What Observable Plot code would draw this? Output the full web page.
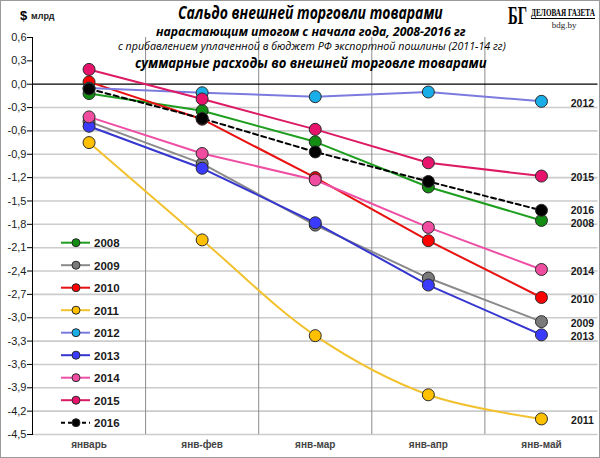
<!DOCTYPE html>
<html>
<head>
<meta charset="utf-8">
<script src="https://cdn.jsdelivr.net/npm/d3@7"></script>
<script src="https://cdn.jsdelivr.net/npm/@observablehq/plot@0.6"></script>
<style>
  body { margin: 0; background: #fff; }
  #wrap { position: relative; width: 600px; height: 458px; }
  #overlay { position: absolute; left: 0; top: 0; pointer-events: none; }
</style>
</head>
<body>
<div id="wrap"></div>
<script>
const months = ["январь", "янв-фев", "янв-мар", "янв-апр", "янв-май"];
const years = ["2008", "2009", "2010", "2011", "2012", "2013", "2014", "2015", "2016"];

const v2008 = [-0.12, -0.34, -0.74, -1.32, -1.75];
const v2009 = [-0.48, -1.02, -1.81, -2.49, -3.05];
const v2010 = [0.03, -0.45, -1.20, -2.01, -2.74];
const v2011 = [-0.75, -2.00, -3.23, -3.99, -4.30];
const v2012 = [-0.05, -0.11, -0.16, -0.10, -0.22];
const v2013 = [-0.54, -1.08, -1.78, -2.58, -3.22];
const v2014 = [-0.42, -0.89, -1.23, -1.84, -2.38];
const v2015 = [0.19, -0.19, -0.58, -1.01, -1.18];
const v2016 = [-0.06, -0.44, -0.87, -1.25, -1.62];
const seriesValues = [v2008, v2009, v2010, v2011, v2012, v2013, v2014, v2015, v2016];

const lineColors = ["#1e9e1e", "#8a8a8a", "#e81010", "#f2c12e", "#7b7bdf", "#3535d0", "#ee4fa5", "#dd1a64", "#000000"];
const dotColors  = ["#128c12", "#7a7a7a", "#ff0000", "#ffc000", "#1aaee8", "#3b3bff", "#f04ca0", "#e8136c", "#000000"];
const dashed = ["2016"];
const smoothed = ["2011"];
const labelsRaised = ["2016"];
const labelsLowered = ["2008"];

const titleLines = [
  "Сальдо внешней торговли товарами",
  "нарастающим  итогом с начала года, 2008-2016 гг",
  "с прибавлением уплаченной в бюджет РФ экспортной пошлины (2011-14 гг)",
  "суммарные расходы во внешней торговле товарами"
];
const unitLabel = ["$", "млрд"];
const logoText = ["БГ", "ДЕЛОВАЯ ГАЗЕТА", "bdg.by"];

const yTicks = d3.range(-15, 3).map(k => k * 3 / 10);
const fmt = t => t.toFixed(1).replace(".", ",");

const rows = years.flatMap((yr, k) => seriesValues[k].map((v, i) => ({year: yr, k, i, value: v})));
const lastRows = years.map((yr, k) => ({year: yr, i: months.length - 1, value: seriesValues[k][months.length - 1]}));
const boundaries = months.slice(1).map((_, i) => i + 0.5);

const seriesMarks = years.flatMap((yr, k) => {
  const data = rows.filter(d => d.year === yr);
  return [
    Plot.line(data, {
      x: "i", y: "value", stroke: lineColors[k], strokeWidth: 2,
      strokeDasharray: dashed.includes(yr) ? "5,3.5" : null,
      curve: smoothed.includes(yr) ? "catmull-rom" : "linear"
    }),
    Plot.dot(data, {x: "i", y: "value", r: 6, fill: dotColors[k], stroke: "#2a2a2a", strokeWidth: 1})
  ];
});

const labelStyle = {x: "i", y: "value", text: "year", dx: 41, fontWeight: "bold", fontSize: 10.5, fill: "#1a1a1a"};

const chart = Plot.plot({
  width: 600,
  height: 458,
  marginLeft: 32,
  marginRight: 2.5,
  marginTop: 37,
  marginBottom: 24,
  style: {fontFamily: "'Liberation Sans', Arial, sans-serif", fontSize: "11px", background: "transparent"},
  x: {domain: [-0.5, months.length - 0.5], label: null},
  y: {domain: [-4.5, 0.6], label: null},
  marks: [
    Plot.ruleY(yTicks.filter(t => t < 0), {stroke: "#cbcbcb", strokeWidth: 1.6}),
    Plot.ruleX(boundaries, {stroke: "#8c8c8c", strokeWidth: 1}),
    Plot.ruleY([0], {stroke: "#000", strokeWidth: 1.2}),
    Plot.frame({anchor: "left", stroke: "#000"}),
    Plot.axisY({ticks: yTicks, tickFormat: fmt, tickSize: 5, tickPadding: 1, fill: "#1a1a1a", stroke: "#000", fontSize: 11, label: null}),
    Plot.axisX({ticks: d3.range(months.length), tickFormat: i => months[i], tickSize: 0, tickPadding: 6, fontWeight: "bold", fill: "#444", fontSize: 10, label: null}),
    ...seriesMarks,
    Plot.text(lastRows.filter(d => !labelsRaised.includes(d.year) && !labelsLowered.includes(d.year)), {...labelStyle, dy: 2}),
    Plot.text(lastRows.filter(d => labelsRaised.includes(d.year)), {...labelStyle, dy: 0.5}),
    Plot.text(lastRows.filter(d => labelsLowered.includes(d.year)), {...labelStyle, dy: 3.5})
  ]
});

const wrap = document.getElementById("wrap");
wrap.appendChild(chart);

// overlay: titles, legend, logo, frame
const ov = d3.select(wrap).append("svg")
  .attr("id", "overlay").attr("width", 600).attr("height", 458);

ov.append("rect").attr("x", 0.5).attr("y", 0.5).attr("width", 599).attr("height", 457)
  .attr("fill", "none").attr("stroke", "#9a9a9a");

// place a text so that it spans exactly `len` pixels horizontally, starting at x0
function fitText(sel, x0, y, len) {
  const natural = sel.node().getComputedTextLength();
  sel.attr("x", 0).attr("y", 0)
     .attr("transform", `translate(${x0},${y}) scale(${len / natural},1)`);
  return sel;
}

const titleSpecs = [
  {size: 17, weight: "bold", y: 18.5, x0: 178, len: 265},
  {size: 12.5, weight: "bold", y: 35.5, x0: 156, len: 310},
  {size: 10, weight: "normal", y: 49.5, x0: 118, len: 388},
  {size: 14, weight: "bold", y: 67.5, x0: 135, len: 352}
];
titleLines.forEach((t, j) => {
  const s = titleSpecs[j];
  const el = ov.append("text")
    .attr("font-family", "'Open Sans', sans-serif").attr("font-style", "italic")
    .attr("font-weight", s.weight).attr("font-size", s.size).attr("fill", "#000").text(t);
  fitText(el, s.x0, s.y, s.len);
});

ov.append("text").attr("x", 20).attr("y", 20).attr("font-family", "'Liberation Sans', sans-serif")
  .attr("font-weight", "bold").attr("font-size", 13).text(unitLabel[0]);
ov.append("text").attr("x", 31).attr("y", 19).attr("font-family", "'Liberation Sans', sans-serif")
  .attr("font-weight", "bold").attr("font-size", 9).attr("fill", "#222").text(unitLabel[1]);

// logo
fitText(ov.append("text").attr("font-family", "'Liberation Serif', serif")
  .attr("font-weight", "bold").attr("font-size", 26).text(logoText[0]), 508, 24, 19);
fitText(ov.append("text").attr("font-family", "'Liberation Serif', serif")
  .attr("font-weight", "bold").attr("font-size", 9.5).text(logoText[1]), 531, 16, 64);
ov.append("line").attr("x1", 531).attr("x2", 595).attr("y1", 18.5).attr("y2", 18.5)
  .attr("stroke", "#000").attr("stroke-width", 1);
ov.append("text").attr("x", 564).attr("y", 27.5).attr("text-anchor", "middle")
  .attr("font-family", "'Liberation Serif', serif").attr("font-size", 9).attr("fill", "#222").text(logoText[2]);

// legend
years.forEach((yr, k) => {
  const y = 242.7 + k * 22.5;
  ov.append("line").attr("x1", 61).attr("x2", 90).attr("y1", y).attr("y2", y)
    .attr("stroke", lineColors[k]).attr("stroke-width", 2)
    .attr("stroke-dasharray", dashed.includes(yr) ? "4,3" : null);
  ov.append("circle").attr("cx", 76).attr("cy", y).attr("r", 4)
    .attr("fill", dotColors[k]).attr("stroke", "#2a2a2a").attr("stroke-width", 1);
  ov.append("text").attr("x", 94).attr("y", y + 4.5)
    .attr("font-family", "'Liberation Sans', sans-serif").attr("font-weight", "bold")
    .attr("font-size", 11.5).attr("fill", "#1a1a1a").text(yr);
});
</script>
</body>
</html>
